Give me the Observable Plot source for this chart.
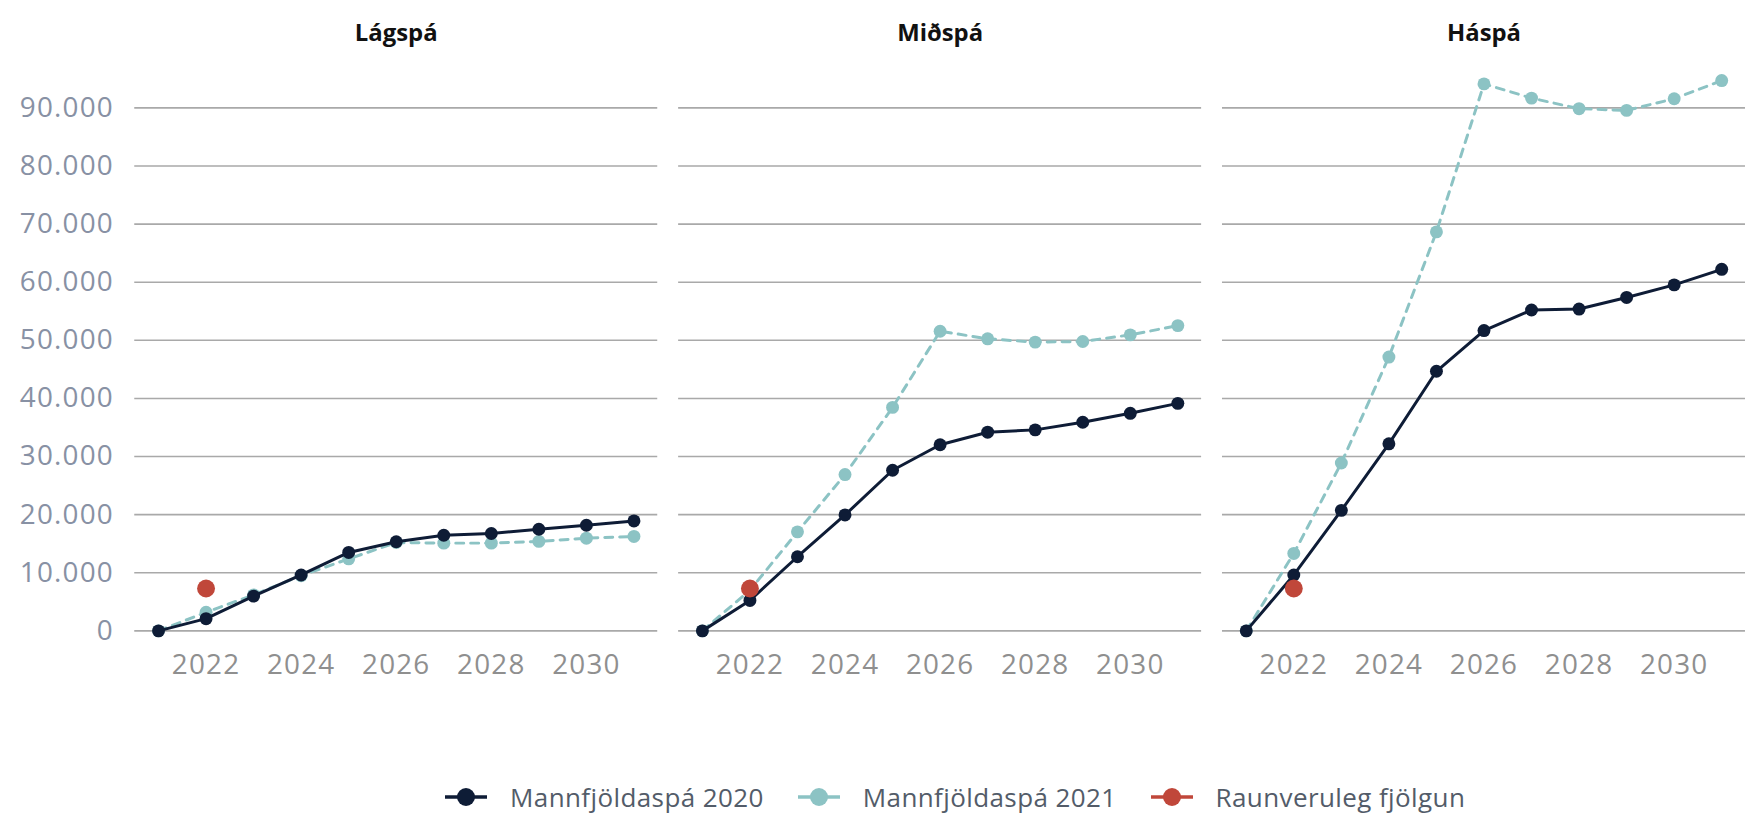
<!DOCTYPE html>
<html>
<head>
<meta charset="utf-8">
<script src="https://cdn.jsdelivr.net/npm/d3@7"></script>
<script src="https://cdn.jsdelivr.net/npm/@observablehq/plot@0.6"></script>
<style>
  html, body { margin: 0; padding: 0; background: #ffffff; overflow: hidden; }
  body { font-family: "Open Sans", sans-serif; width: 1745px; height: 816px; }
  #chart svg { display: block; }
  #chart g[aria-label="y-axis tick label"] text,
  #chart g[aria-label="x-axis tick label"] text { letter-spacing: 1.2px; }
  .legend { display: flex; align-items: center; height: 82px; padding-left: 445px; }
  .item { display: flex; align-items: center; margin-right: 34px; }
  .item svg { display: block; margin-right: 23px; }
  .item span { font-size: 26px; color: #535c69; letter-spacing: 0.4px; }
</style>
</head>
<body>
<div id="chart"></div>
<div class="legend" id="legend"></div>
<script>
// ---- data ----
const scenarios = ["Lágspá", "Miðspá", "Háspá"];
const years = [2021, 2022, 2023, 2024, 2025, 2026, 2027, 2028, 2029, 2030, 2031];
const low2020  = [0, 2100, 5980, 9620, 13500, 15330, 16460, 16750, 17490, 18170, 18920];
const low2021  = [0, 3200, 6200, 9500, 12400, 15200, 15100, 15100, 15400, 15950, 16250];
const mid2020  = [0, 5240, 12760, 19950, 27640, 32020, 34190, 34590, 35900, 37440, 39150];
const mid2021  = [0, 7000, 17040, 26900, 38460, 51570, 50260, 49690, 49800, 50940, 52530];
const high2020 = [0, 9620, 20740, 32190, 44670, 51680, 55210, 55380, 57380, 59540, 62220];
const high2021 = [0, 13330, 28890, 47120, 68660, 94130, 91680, 89860, 89570, 91570, 94700];
const actualYear = 2022;
const actualValues = [7300, 7300, 7300];
const seriesNames = ["Mannfjöldaspá 2020", "Mannfjöldaspá 2021", "Raunveruleg fjölgun"];
const yTicks = [0, 10000, 20000, 30000, 40000, 50000, 60000, 70000, 80000, 90000];
const xTicks = [2022, 2024, 2026, 2028, 2030];

const navy = "#0e1c36";
const teal = "#8cc3c4";
const red  = "#c0473a";

// ---- tables built from the arrays ----
const s2020 = [low2020, mid2020, high2020];
const s2021 = [low2021, mid2021, high2021];
const rows2020 = [], rows2021 = [];
scenarios.forEach((sc, i) => {
  years.forEach((yr, j) => {
    rows2020.push({scenario: sc, year: yr, value: s2020[i][j]});
    rows2021.push({scenario: sc, year: yr, value: s2021[i][j]});
  });
});
const actualRows = scenarios.map((sc, i) => ({scenario: sc, year: actualYear, value: actualValues[i]}));

const fmt = d3.formatLocale({decimal: ",", thousands: ".", grouping: [3], currency: ["", ""]}).format(",");

const chart = Plot.plot({
  width: 1755,
  height: 760,
  marginLeft: 135,
  marginRight: 0,
  marginTop: 108,
  marginBottom: 126,
  style: {fontFamily: "'Open Sans', sans-serif", background: "transparent"},
  fx: {domain: scenarios, paddingInner: 0.0384, paddingOuter: 0, axis: null, label: null},
  x: {domain: [2020.5, 2031.5]},
  y: {domain: [0, 90000]},
  marks: [
    Plot.gridY(yTicks, {stroke: "#a9a9a9", strokeOpacity: 1, strokeWidth: 1.6}),
    Plot.axisY(yTicks, {anchor: "left", tickSize: 0, tickPadding: 21, tickFormat: fmt, fontSize: 28, color: "#8891a4", label: null}),
    Plot.axisX(xTicks, {anchor: "bottom", tickSize: 0, tickPadding: 23, tickFormat: d => String(d), fontSize: 28, color: "#8f8f8f", label: null}),
    Plot.text(scenarios, {fx: d => d, text: d => d, frameAnchor: "top", dy: -84, fontSize: 24, fontWeight: "bold", fill: "#111111"}),
    Plot.line(rows2021, {fx: "scenario", x: "year", y: "value", stroke: teal, strokeWidth: 3, strokeDasharray: "8,7"}),
    Plot.dot(rows2021, {fx: "scenario", x: "year", y: "value", r: 6.5, fill: teal}),
    Plot.line(rows2020, {fx: "scenario", x: "year", y: "value", stroke: navy, strokeWidth: 3}),
    Plot.dot(rows2020, {fx: "scenario", x: "year", y: "value", r: 6.5, fill: navy}),
    Plot.dot(actualRows, {fx: "scenario", x: "year", y: "value", r: 9, fill: red})
  ]
});
document.getElementById("chart").appendChild(chart);

// ---- legend ----
const legendColors = [navy, teal, red];
const legend = document.getElementById("legend");
seriesNames.forEach((name, i) => {
  const item = document.createElement("div");
  item.className = "item";
  item.innerHTML = `<svg width="42" height="22" viewBox="0 0 42 22">
      <line x1="0" y1="11" x2="42" y2="11" stroke="${legendColors[i]}" stroke-width="3.5"/>
      <circle cx="21" cy="11" r="9" fill="${legendColors[i]}"/>
    </svg><span>${name}</span>`;
  legend.appendChild(item);
});
</script>
</body>
</html>
